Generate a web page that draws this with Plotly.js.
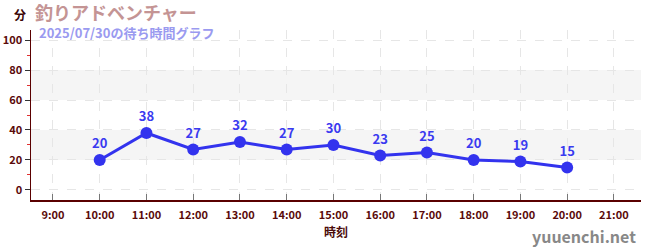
<!DOCTYPE html>
<html><head><meta charset="utf-8">
<script src="https://cdn.plot.ly/plotly-3.0.1.min.js"></script>
<style>html,body{margin:0;padding:0;background:#fff}#c{width:650px;height:250px}</style>
</head><body><div id="c"></div>
<script>
const hours = [10, 11, 12, 13, 14, 15, 16, 17, 18, 19, 20];
const waits = [20, 38, 27, 32, 27, 30, 23, 25, 20, 19, 15];
const tickHours = [9, 10, 11, 12, 13, 14, 15, 16, 17, 18, 19, 20, 21];
const tickLabels = tickHours.map(h => h + ':00');
const yTicks = [0, 20, 40, 60, 80, 100];
const bands = [[20, 40], [60, 80]];
const FONT = '"Noto Sans CJK JP", "Noto Sans", sans-serif';

const shapes = bands.map(b => ({type:'rect', xref:'paper', yref:'y', x0:0, x1:1, y0:b[0], y1:b[1], fillcolor:'#f5f5f5', line:{width:0}, layer:'below'}));

Plotly.newPlot('c', [{
  x: hours, y: waits, mode: 'lines+markers+text', type: 'scatter',
  text: waits.map(String), textposition: 'top center',
  textfont: {family: FONT, size: 13, color: '#3a3af0', weight: 'bold'},
  line: {color: '#3333ee', width: 3},
  marker: {color: '#3333ee', size: 12},
  cliponaxis: false, hoverinfo: 'none'
}], {
  width: 650, height: 250,
  margin: {l: 31, r: 9, t: 30, b: 50},
  paper_bgcolor: '#fff', plot_bgcolor: '#fff',
  showlegend: false,
  shapes: shapes,
  xaxis: {
    range: [8.53, 21.58], tickvals: tickHours, ticktext: tickLabels,
    ticks: 'inside', ticklen: 6, tickcolor: '#777', tickwidth: 1,
    ticklabelstandoff: 4,
    showline: true, linecolor: '#5a0000', linewidth: 1.5,
    showgrid: true, gridcolor: '#e6e6e6', griddash: 'dash', zeroline: false,
    tickfont: {family: FONT, size: 11, color: '#5a0a0a', weight: 'bold'},
    title: {text: '時刻', font: {family: FONT, size: 12, color: '#4a0a0a', weight: 'bold'}, standoff: 8}
  },
  yaxis: {
    range: [-6.7, 106.7], tickvals: yTicks,
    ticks: 'outside', ticklen: 5, tickcolor: '#333', tickwidth: 1,
    minor: {dtick: 10, tick0: 0, ticks: 'outside', ticklen: 3, tickcolor: '#e03030', showgrid: false},
    showline: true, linecolor: '#5a0000', linewidth: 1.5,
    showgrid: true, gridcolor: '#e6e6e6', griddash: 'dash', zeroline: false,
    tickfont: {family: FONT, size: 11, color: '#5a0a0a', weight: 'bold'}
  },
  annotations: [
    {xref:'paper', yref:'paper', x:0, y:1, xanchor:'left', yanchor:'top', showarrow:false,
     text:'分', font:{family:FONT, size:12, color:'#3a0505', weight:'bold'}, xshift:-19, yshift:26},
    {xref:'paper', yref:'paper', x:0, y:1, xanchor:'left', yanchor:'top', showarrow:false,
     text:'釣りアドベンチャー', font:{family:FONT, size:18, color:'#c49494', weight:'bold'}, xshift:2, yshift:33},
    {xref:'paper', yref:'paper', x:0, y:1, xanchor:'left', yanchor:'top', showarrow:false,
     text:'2025/07/30の待ち時間グラフ', font:{family:FONT, size:13, color:'#9a9af0', weight:'bold'}, xshift:6, yshift:9},
    {xref:'paper', yref:'paper', x:1, y:0, xanchor:'right', yanchor:'bottom', showarrow:false,
     text:'yuuenchi.net', font:{family:FONT, size:16, color:'#888', weight:'bold'}, xshift:-3, yshift:-50}
  ]
}, {staticPlot: true});
</script></body></html>
